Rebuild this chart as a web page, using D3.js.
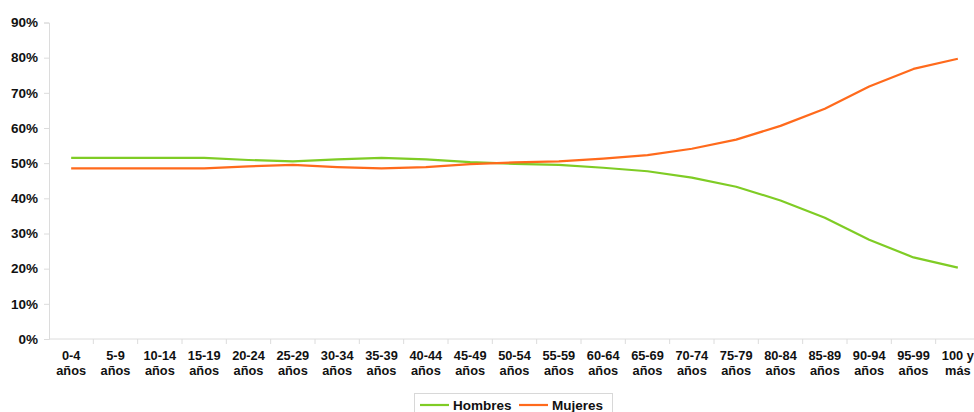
<!DOCTYPE html>
<html>
<head>
<meta charset="utf-8">
<script src="https://cdn.jsdelivr.net/npm/d3@7"></script>
<style>
  html, body { margin: 0; padding: 0; background: #fff; }
  svg { display: block; }
  text { font-family: "Liberation Sans", Arial, sans-serif; font-weight: bold; fill: #111; }
</style>
</head>
<body>
<svg id="chart" width="974" height="412"></svg>
<script>
// Age groups (two-line labels: first line / second line)
const categories = [
  "0-4|años", "5-9|años", "10-14|años", "15-19|años", "20-24|años", "25-29|años",
  "30-34|años", "35-39|años", "40-44|años", "45-49|años", "50-54|años", "55-59|años",
  "60-64|años", "65-69|años", "70-74|años", "75-79|años", "80-84|años", "85-89|años",
  "90-94|años", "95-99|años", "100 y|más"
];

// Share of population by sex (%)
const hombres = [51.5, 51.5, 51.5, 51.5, 50.9, 50.5, 51.1, 51.5, 51.1, 50.3, 49.8,
                 49.5, 48.7, 47.7, 45.9, 43.3, 39.4, 34.5, 28.2, 23.2, 20.3];
const mujeres = [48.5, 48.5, 48.5, 48.5, 49.1, 49.5, 48.9, 48.5, 48.9, 49.7, 50.2,
                 50.5, 51.3, 52.3, 54.1, 56.7, 60.6, 65.5, 71.8, 76.8, 79.7];

const yTicks = [0, 10, 20, 30, 40, 50, 60, 70, 80, 90];

const seriesNames = ["Hombres", "Mujeres"];
const seriesColors = ["#7fcc25", "#ff6a1c"];

const svg = d3.select("#chart");
const plotLeft = 49, plotRight = 980, plotTop = 22.5, plotBottom = 339;

const x = d3.scaleBand().domain(categories).range([plotLeft, plotRight]);
const y = d3.scaleLinear().domain([0, 90]).range([plotBottom, plotTop]);

// Y axis
const yAxis = svg.append("g").attr("transform", `translate(${plotLeft},0)`)
  .call(d3.axisLeft(y).tickValues(yTicks).tickSize(5).tickPadding(6).tickFormat(d => d + "%"));
yAxis.select(".domain").attr("stroke", "#dcdcdc");
yAxis.selectAll(".tick line").attr("stroke", "#dcdcdc");
yAxis.selectAll(".tick text").style("font-size", "13.5px").attr("fill", "#111");

// X axis with tick marks between categories
const xAxis = svg.append("g").attr("transform", `translate(0,${plotBottom})`);
xAxis.append("line").attr("x1", plotLeft).attr("x2", plotRight).attr("y1", 0).attr("y2", 0).attr("stroke", "#dcdcdc");
xAxis.selectAll("line.sep").data(categories).enter().append("line")
  .attr("class", "sep")
  .attr("x1", d => x(d) + x.bandwidth()).attr("x2", d => x(d) + x.bandwidth())
  .attr("y1", 0).attr("y2", 5).attr("stroke", "#dcdcdc");
const lbl = xAxis.selectAll("text.cat").data(categories).enter().append("text")
  .attr("class", "cat")
  .attr("text-anchor", "middle")
  .attr("x", d => x(d) + x.bandwidth() / 2)
  .style("font-size", "12.8px");
lbl.append("tspan").attr("x", d => x(d) + x.bandwidth() / 2).attr("y", 20.8).text(d => d.split("|")[0]);
lbl.append("tspan").attr("x", d => x(d) + x.bandwidth() / 2).attr("y", 35.8).text(d => d.split("|")[1]);

// Lines
const line = d3.line()
  .x((d, i) => x(categories[i]) + x.bandwidth() / 2)
  .y(d => y(d));

[hombres, mujeres].forEach((vals, k) => {
  svg.append("path")
    .datum(vals)
    .attr("fill", "none")
    .attr("stroke", seriesColors[k])
    .attr("stroke-width", 2.2)
    .attr("stroke-linejoin", "round")
    .attr("d", line);
});

// Legend
const lg = svg.append("g");
lg.append("rect").attr("x", 414.5).attr("y", 393.5).attr("width", 198).attr("height", 30)
  .attr("fill", "#fff").attr("stroke", "#d8d8d8");
const legendItems = [{ lx: 420, tx: 453 }, { lx: 519, tx: 552 }];
seriesNames.forEach((name, k) => {
  lg.append("line").attr("x1", legendItems[k].lx).attr("x2", legendItems[k].lx + 29)
    .attr("y1", 405).attr("y2", 405).attr("stroke", seriesColors[k]).attr("stroke-width", 2.2);
  lg.append("text").attr("x", legendItems[k].tx).attr("y", 409.8).style("font-size", "13.5px").text(name);
});
</script>
</body>
</html>
